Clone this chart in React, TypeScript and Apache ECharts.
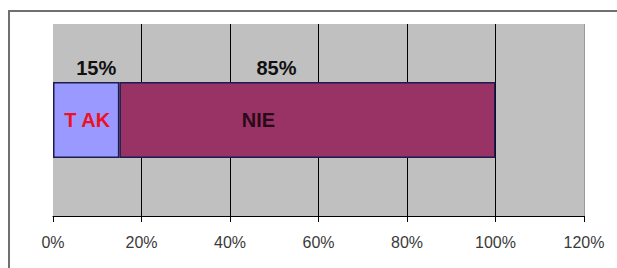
import React, { useEffect, useRef } from "react";
import * as echarts from "echarts";

const categories = ["Odpowiedź"];
const seriesNames = ["TAK", "NIE"];
const seriesValues = [15, 85];
const seriesColors = ["#9999ff", "#993366"];
const tickLabels = ["0%", "20%", "40%", "60%", "80%", "100%", "120%"];

export default function App() {
  const ref = useRef<HTMLDivElement>(null);
  useEffect(() => {
    if (!ref.current) return;
    const chart = echarts.init(ref.current, undefined, { renderer: "svg" });
    let cum = 0;
    const series = seriesValues.map((v, i) => {
      const mid = cum + v / 2;
      cum += v;
      return {
        name: seriesNames[i],
        type: "bar",
        stack: "total",
        barWidth: 76,
        data: [v],
        itemStyle: { color: seriesColors[i], borderColor: "#1c1c50", borderWidth: 1.5 },
        label: {
          show: true,
          position: "top",
          distance: 4,
          offset: i === 0 ? [10, 0] : [-31, 0],
          formatter: "{c}%",
          fontFamily: "Liberation Sans, Arial, sans-serif",
          fontSize: 20,
          fontWeight: "bold",
          color: "#111",
        },
        markPoint: {
          symbol: "rect",
          symbolSize: 1,
          itemStyle: { color: "rgba(0,0,0,0)" },
          data: [
            {
              coord: [mid, categories[0]],
              label: {
                show: true,
                position: "inside",
                offset: i === 0 ? [1, 0] : [-49, 0],
                formatter: i === 0 ? "T AK" : seriesNames[i],
                fontFamily: "Liberation Sans, Arial, sans-serif",
                fontSize: 20,
                fontWeight: "bold",
                color: i === 0 ? "#ee1122" : "#2a0a18",
              },
            },
          ],
        },
      };
    });
    chart.setOption({
      animation: false,
      backgroundColor: "#ffffff",
      graphic: [
        {
          type: "rect",
          z: 100,
          shape: { x: 9, y: 11, width: 700, height: 400 },
          style: { fill: "none", stroke: "#707070", lineWidth: 2 },
          silent: true,
        },
      ],
      grid: {
        left: 53,
        right: 33,
        top: 24,
        bottom: 52,
        show: true,
        backgroundColor: "#c0c0c0",
        borderWidth: 0,
      },
      xAxis: {
        type: "value",
        min: 0,
        max: 120,
        interval: 20,
        axisLine: { show: true, lineStyle: { color: "#000", width: 1 } },
        axisTick: { show: true, length: 6, lineStyle: { color: "#000" } },
        axisLabel: {
          margin: 18,
          fontFamily: "Liberation Sans, Arial, sans-serif",
          fontSize: 16,
          color: "#3a3a3a",
          formatter: (v: number) => tickLabels[Math.round(v / 20)] ?? `${v}%`,
        },
        splitLine: {
          show: true,
          lineStyle: {
            color: ["rgba(0,0,0,0)", "#000", "#000", "#000", "#000", "#000", "#999"],
            width: 1,
          },
        },
      },
      yAxis: {
        type: "category",
        data: categories,
        axisLine: { show: false },
        axisTick: { show: false },
        axisLabel: { show: false },
      },
      series,
    });
    return () => chart.dispose();
  }, []);
  return (
    <div
      ref={ref}
      style={{ position: "fixed", left: 0, top: 0, width: 617, height: 268 }}
    />
  );
}
